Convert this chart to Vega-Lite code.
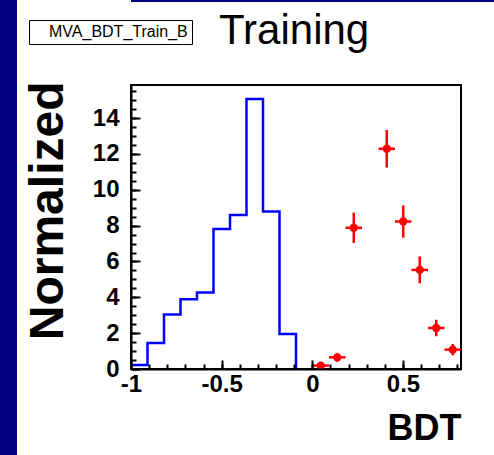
{
  "$schema": "https://vega.github.io/schema/vega-lite/v6.json",
  "background": "white",
  "padding": 0,
  "config": {"view": {"stroke": null}},
  "datasets": {
    "blue": [
      {"lo": -1, "v": 0.22}, {"lo": -0.909, "v": 1.45}, {"lo": -0.818, "v": 3.04},
      {"lo": -0.727, "v": 3.89}, {"lo": -0.636, "v": 4.27}, {"lo": -0.545, "v": 7.82},
      {"lo": -0.454, "v": 8.6}, {"lo": -0.363, "v": 15.07}, {"lo": -0.272, "v": 8.79},
      {"lo": -0.181, "v": 1.96}, {"lo": -0.09, "v": 0}
    ],
    "red": [
      {"c": 0.0465, "lo": 0.001, "hi": 0.092, "v": 0.19, "e": 0.15},
      {"c": 0.1375, "lo": 0.092, "hi": 0.183, "v": 0.65, "e": 0.25},
      {"c": 0.2285, "lo": 0.183, "hi": 0.274, "v": 7.88, "e": 0.85},
      {"c": 0.4105, "lo": 0.365, "hi": 0.456, "v": 12.29, "e": 1.05},
      {"c": 0.5015, "lo": 0.456, "hi": 0.547, "v": 8.23, "e": 0.9},
      {"c": 0.5925, "lo": 0.547, "hi": 0.638, "v": 5.53, "e": 0.75},
      {"c": 0.6835, "lo": 0.638, "hi": 0.729, "v": 2.29, "e": 0.46},
      {"c": 0.7745, "lo": 0.729, "hi": 0.82, "v": 1.08, "e": 0.32}
    ]
  },
  "spacing": 6,
  "resolve": {"scale": {"color": "independent"}, "legend": {"color": "independent"}},
  "hconcat": [
    {
      "width": 17, "height": 455,
      "data": {"values": []},
      "mark": "rect",
      "view": {"fill": "#000080", "stroke": null}
    },
    {
      "spacing": 6,
      "resolve": {"scale": {"color": "independent"}, "legend": {"color": "independent"}},
      "vconcat": [
        {
          "width": 471, "height": 2,
          "data": {"values": []},
          "mark": "rect",
          "view": {"fill": "#000080", "stroke": null}
        },
        {
          "width": 330, "height": 284,
          "view": {"stroke": "black", "strokeWidth": 2},
          "title": {
            "text": "Training", "anchor": "start", "frame": "group", "dx": 88,
            "offset": -66, "baseline": "alphabetic", "font": "Liberation Sans",
            "fontSize": 42, "fontWeight": "normal", "color": "black"
          },
          "resolve": {"axis": {"x": "independent", "y": "independent"}},
          "layer": [
            {
              "data": {"name": "blue"},
              "mark": {"type": "line", "interpolate": "step-after", "color": "#0000ff", "strokeWidth": 2.5},
              "encoding": {
                "x": {
                  "field": "lo", "type": "quantitative", "title": "BDT",
                  "scale": {"domain": [-1, 0.82], "nice": false, "zero": false},
                  "axis": {
                    "values": [-1, -0.5, 0, 0.5],
                    "labelExpr": "toString(datum.value)",
                    "tickSize": -9,
                    "tickWidth": 2, "tickColor": "black",
                    "domainColor": "black", "domainWidth": 2,
                    "labelFont": "Liberation Sans", "labelFontWeight": "bold", "labelFontSize": 24,
                    "labelColor": "black", "labelPadding": 12,
                    "labelOverlap": false, "labelFlush": false, "labelBound": false,
                    "grid": false, "zindex": 1,
                    "titleFont": "Liberation Sans", "titleFontWeight": "bold", "titleFontSize": 36,
                    "titleColor": "black", "titleAlign": "right", "titleAnchor": "end",
                    "titleX": 330, "titleY": 70, "titleBaseline": "alphabetic"
                  }
                },
                "y": {
                  "field": "v", "type": "quantitative", "title": "Normalized",
                  "scale": {"domain": [0, 15.85], "nice": false, "zero": false},
                  "axis": {
                    "values": [0, 2, 4, 6, 8, 10, 12, 14],
                    "labelExpr": "toString(datum.value)",
                    "tickSize": -9,
                    "tickWidth": 2, "tickColor": "black",
                    "domainColor": "black", "domainWidth": 2,
                    "labelFont": "Liberation Sans", "labelFontWeight": "bold", "labelFontSize": 24,
                    "labelColor": "black", "labelPadding": 21,
                    "labelOverlap": false, "labelFlush": false, "labelBound": false,
                    "grid": false, "zindex": 1,
                    "titleFont": "Liberation Sans", "titleFontWeight": "bold", "titleFontSize": 48,
                    "titleColor": "black", "titleAngle": 270, "titleAlign": "right",
                    "titleBaseline": "middle", "titleX": -83, "titleY": -4
                  }
                }
              }
            },
            {
              "data": {"name": "red"},
              "mark": {"type": "rule", "color": "#ff0000", "strokeWidth": 2.5},
              "encoding": {
                "x": {
                  "field": "lo", "type": "quantitative", "title": null,
                  "axis": {
                    "orient": "top", "offset": -284,
                    "values": [-1, -0.9, -0.8, -0.7, -0.6, -0.5, -0.4, -0.3, -0.2, -0.1, 0, 0.1, 0.2, 0.3, 0.4, 0.5, 0.6, 0.7, 0.8],
                    "labels": false, "domain": false, "grid": false,
                    "tickSize": 5, "tickWidth": 2, "tickColor": "black", "zindex": 1
                  }
                },
                "x2": {"field": "hi"},
                "y": {
                  "field": "v", "type": "quantitative", "title": null,
                  "axis": {
                    "orient": "right", "offset": -330,
                    "values": [0, 0.5, 1, 1.5, 2, 2.5, 3, 3.5, 4, 4.5, 5, 5.5, 6, 6.5, 7, 7.5, 8, 8.5, 9, 9.5, 10, 10.5, 11, 11.5, 12, 12.5, 13, 13.5, 14, 14.5, 15, 15.5],
                    "labels": false, "domain": false, "grid": false,
                    "tickSize": 5, "tickWidth": 2, "tickColor": "black", "zindex": 1
                  }
                }
              }
            },
            {
              "data": {"name": "red"},
              "mark": {"type": "errorbar", "ticks": false, "color": "#ff0000", "thickness": 2.5},
              "encoding": {
                "x": {"field": "c", "type": "quantitative", "axis": null},
                "y": {"field": "v", "type": "quantitative", "axis": null},
                "yError": {"field": "e"}
              }
            },
            {
              "data": {"name": "red"},
              "mark": {"type": "circle", "size": 70, "opacity": 1},
              "encoding": {
                "x": {"field": "c", "type": "quantitative", "axis": null},
                "y": {"field": "v", "type": "quantitative", "axis": null},
                "color": {
                  "datum": "MVA_BDT_Train_B", "type": "nominal",
                  "scale": {"range": ["#ff0000"]},
                  "legend": {
                    "orient": "none", "legendX": -102, "legendY": -65, "title": null,
                    "strokeColor": "black", "padding": 4,
                    "labelFont": "Liberation Sans", "labelFontSize": 16, "labelColor": "black",
                    "symbolSize": 0, "symbolOpacity": 0, "labelOffset": 0, "labelLimit": 400
                  }
                }
              }
            }
          ]
        }
      ]
    }
  ]
}
